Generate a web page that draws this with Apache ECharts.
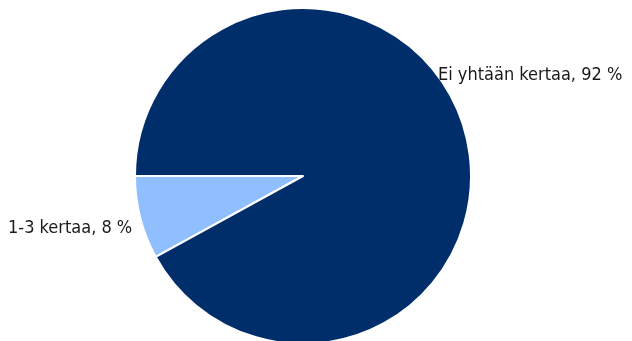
<!DOCTYPE html>
<html>
<head>
<meta charset="utf-8">
<script src="https://cdn.jsdelivr.net/npm/echarts@6/dist/echarts.min.js"></script>
<style>
  html, body { margin: 0; padding: 0; background: #fff; }
  #pie { width: 632px; height: 341px; }
</style>
</head>
<body>
<div id="pie"></div>
<script>
// categories and shares (%)
const categories = ['1-3 kertaa', 'Ei yhtään kertaa']
const shares = [8, 92]
const colors = ['#8fbfff', '#002e6a']

const labelSpots = [
  { x: 8, y: 228, align: 'left' },
  { x: 438, y: 75, align: 'left' }
]

const pieChart = echarts.init(document.getElementById('pie'))
pieChart.setOption({
  animation: false,
  series: [
    {
      type: 'pie',
      radius: 168,
      center: [303, 176],
      startAngle: 180,
      clockwise: false,
      data: categories.map((name, i) => ({
        name: name,
        value: shares[i],
        itemStyle: { color: colors[i] }
      })),
      itemStyle: { borderColor: '#fff', borderWidth: 2 },
      label: {
        show: true,
        position: 'outside',
        formatter: p => p.name + ', ' + p.value + ' %',
        color: '#1a1a1a',
        fontSize: 18,
        fontWeight: 'condensed',
        overflow: 'none',
        width: 300,
        fontFamily: '"DejaVu Sans"'
      },
      labelLine: { show: false },
      labelLayout: params => {
        const s = labelSpots[params.dataIndex]
        return { x: s.x, y: s.y, align: s.align, verticalAlign: 'middle' }
      },
      emphasis: { disabled: true }
    }
  ]
})
</script>
</body>
</html>
